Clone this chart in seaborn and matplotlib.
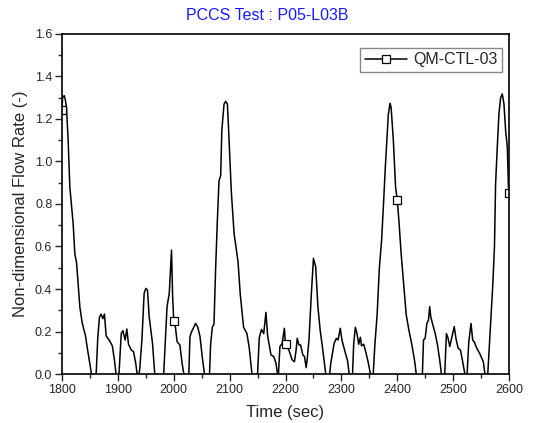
import matplotlib
matplotlib.use("Agg")
import matplotlib.pyplot as plt
from matplotlib.ticker import MultipleLocator
from matplotlib.lines import Line2D
import seaborn as sns
import pandas as pd

# ---- data ----
time_sec = [
    1800, 1801, 1804, 1806, 1808, 1811, 1814, 1820, 1823, 1826, 1829, 1832, 1836, 1839, 1842, 1846,
    1851, 1856, 1861, 1864, 1867, 1870, 1873, 1876, 1879, 1885, 1890, 1894, 1898, 1902, 1906, 1909,
    1913, 1916, 1919, 1924, 1928, 1932, 1936, 1939, 1943, 1947, 1950, 1953, 1956, 1962, 1966, 1974,
    1982, 1985, 1988, 1992, 1996, 1998, 2000, 2003, 2006, 2011, 2015, 2018, 2023, 2027, 2029, 2032,
    2035, 2039, 2043, 2047, 2051, 2056, 2060, 2064, 2066, 2069, 2072, 2075, 2078, 2081, 2084, 2086,
    2090, 2093, 2096, 2098, 2103, 2108, 2115, 2119, 2125, 2131, 2135, 2140, 2145, 2150, 2153, 2157,
    2161, 2165, 2168, 2174, 2179, 2183, 2186, 2187, 2190, 2194, 2198, 2200, 2206, 2212, 2216, 2219,
    2221, 2224, 2227, 2231, 2234, 2237, 2239, 2242, 2246, 2250, 2254, 2258, 2262, 2266, 2272, 2276,
    2279, 2281, 2287, 2291, 2294, 2298, 2301, 2306, 2311, 2314, 2317, 2320, 2322, 2325, 2328, 2331,
    2334, 2336, 2340, 2344, 2348, 2352, 2354, 2357, 2360, 2364, 2368, 2372, 2375, 2379, 2384, 2387,
    2389, 2393, 2397, 2400, 2403, 2407, 2412, 2416, 2421, 2426, 2431, 2434, 2440, 2445, 2447, 2450,
    2453, 2456, 2458, 2460, 2463, 2468, 2472, 2476, 2479, 2482, 2485, 2488, 2491, 2494, 2498, 2502,
    2505, 2509, 2513, 2516, 2521, 2523, 2525, 2528, 2532, 2535, 2538, 2541, 2544, 2547, 2550, 2554,
    2557, 2559, 2562, 2565, 2568, 2571, 2574, 2576, 2579, 2582, 2585, 2588, 2591, 2594, 2597, 2599,
    2600,
]
flow_rate = [
    1.24, 1.30, 1.31, 1.29, 1.255, 1.10, 0.88, 0.706, 0.565, 0.525, 0.42, 0.314, 0.243, 0.21, 0.18, 0.11,
    0.03, -0.06, -0.01, 0.17, 0.267, 0.282, 0.26, 0.282, 0.18, 0.157, 0.133, 0.063, -0.03, 0.0, 0.19, 0.204,
    0.16, 0.212, 0.14, 0.113, 0.105, 0.05, -0.03, 0.02, 0.16, 0.38, 0.403, 0.395, 0.27, 0.144, 0.0, -0.1,
    0.0, 0.16, 0.317, 0.38, 0.583, 0.364, 0.25, 0.22, 0.152, 0.136, 0.05, 0.0, -0.05, 0.0, 0.176, 0.2,
    0.215, 0.238, 0.22, 0.176, 0.08, -0.02, -0.05, 0.0, 0.14, 0.22, 0.235, 0.50, 0.72, 0.91, 0.933, 1.145,
    1.27, 1.283, 1.27, 1.16, 0.86, 0.66, 0.53, 0.376, 0.22, 0.19, 0.125, 0.0, -0.08, 0.0, 0.17, 0.21,
    0.19, 0.29, 0.18, 0.09, 0.082, 0.05, 0.0, -0.02, 0.129, 0.144, 0.215, 0.14, 0.113, 0.066, 0.058, 0.113,
    0.168, 0.137, 0.137, 0.09, 0.082, 0.03, 0.074, 0.16, 0.364, 0.544, 0.505, 0.317, 0.207, 0.129, 0.0, -0.02,
    0.0, 0.05, 0.144, 0.168, 0.16, 0.215, 0.16, 0.11, 0.063, 0.0, -0.03, 0.0, 0.14, 0.22, 0.19, 0.14,
    0.173, 0.133, 0.14, 0.10, 0.055, 0.0, -0.02, 0.0, 0.14, 0.28, 0.50, 0.63, 0.78, 0.99, 1.22, 1.274,
    1.255, 1.10, 0.88, 0.82, 0.72, 0.565, 0.41, 0.28, 0.204, 0.14, 0.063, 0.0, -0.05, 0.0, 0.16, 0.168,
    0.238, 0.254, 0.317, 0.27, 0.238, 0.19, 0.137, 0.066, 0.0, -0.03, 0.0, 0.19, 0.168, 0.129, 0.176, 0.223,
    0.168, 0.121, 0.113, 0.074, 0.0, -0.02, 0.0, 0.15, 0.238, 0.16, 0.15, 0.13, 0.113, 0.10, 0.082, 0.058,
    0.0, -0.02, 0.0, 0.14, 0.28, 0.42, 0.6, 0.894, 1.067, 1.224, 1.30, 1.318, 1.27, 1.145, 1.067, 0.88,
    0.85,
]
marker_times = [1800, 2000, 2200, 2400, 2600]
series_label = "QM-CTL-03"
title_text = "PCCS Test : P05-L03B"
x_label = "Time (sec)"
y_label = "Non-dimensional Flow Rate (-)"

df = pd.DataFrame({"time": time_sec, "rate": flow_rate})
mark_idx = [i for i, t in enumerate(df["time"]) if t in marker_times]

sns.set_style("ticks")
plt.rcParams["font.family"] = ["Liberation Sans", "DejaVu Sans"]

fig = plt.figure(figsize=(5.34, 4.23), dpi=100)
ax = fig.add_axes([62 / 534, 49 / 423, 447 / 534, 340 / 423])

line_kw = dict(color="black", linewidth=1.1, marker="s", markersize=5.5,
               markerfacecolor="white", markeredgecolor="black", markeredgewidth=0.9)

sns.lineplot(data=df, x="time", y="rate", ax=ax, sort=False, estimator=None,
             markevery=mark_idx, legend=False, **line_kw)

ax.set_xlim(1800, 2600)
ax.set_ylim(0, 1.6)
ax.xaxis.set_major_locator(MultipleLocator(100))
ax.xaxis.set_minor_locator(MultipleLocator(50))
ax.yaxis.set_major_locator(MultipleLocator(0.2))
ax.yaxis.set_minor_locator(MultipleLocator(0.1))
ax.yaxis.set_major_formatter(plt.FuncFormatter(lambda v, p: f"{v:.1f}"))

ax.tick_params(which="major", direction="out", length=5, width=1.0, labelsize=9,
               top=False, right=False, pad=2)
ax.tick_params(which="minor", direction="out", length=3, width=1.0,
               top=False, right=False)
for s in ax.spines.values():
    s.set_visible(True)
    s.set_linewidth(1.2)
    s.set_color("black")

ax.set_xlabel(x_label, fontsize=12, labelpad=7)
ax.set_ylabel(y_label, fontsize=12, labelpad=5)

fig.text(0.5, 1 - 16 / 423, title_text, color="#1a1aff", fontsize=11.5,
         ha="center", va="center")

proxy = Line2D([], [], **line_kw)
leg = ax.legend(handles=[proxy], labels=[series_label], numpoints=1,
                loc="upper right", bbox_to_anchor=(0.985, 0.96), frameon=True,
                fancybox=False, edgecolor="#888888", framealpha=1, fontsize=11.5,
                handlelength=2.6, borderpad=0.3, handletextpad=0.4, borderaxespad=0.0)
leg.get_frame().set_linewidth(1.0)

fig.savefig("out.png", dpi=100)
